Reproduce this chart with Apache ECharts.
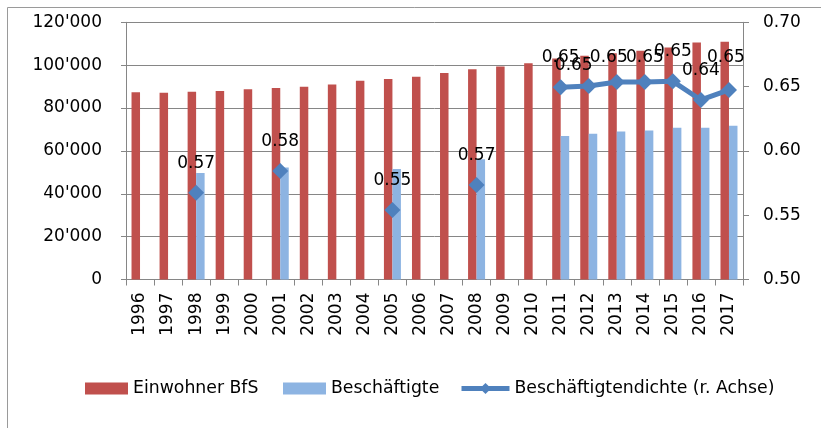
<!DOCTYPE html>
<html>
<head>
<meta charset="utf-8">
<script src="https://cdn.jsdelivr.net/npm/echarts@6/dist/echarts.min.js"></script>
<style>
html,body{margin:0;padding:0;background:#fff;}
#chart{width:821px;height:428px;}
</style>
</head>
<body>
<div id="chart"></div>
<script>
const years = ['1996','1997','1998','1999','2000','2001','2002','2003','2004','2005','2006','2007','2008','2009','2010','2011','2012','2013','2014','2015','2016','2017'];
const einwohner = [87400, 87100, 87550, 88000, 88800, 89400, 89900, 90950, 92700, 93500, 94550, 96400, 98100, 99400, 100950, 103100, 104350, 105600, 106700, 108250, 110600, 110900];
const beschaeftigte = [null, null, 49700, null, null, 52200, null, null, null, 51600, null, null, 56100, null, null, 67000, 67950, 69000, 69500, 70750, 70750, 71700];
const dichte = [null, null, 0.5675, null, null, 0.5844, null, null, null, 0.554, null, null, 0.5735, null, null, 0.6494, 0.6505, 0.6536, 0.6536, 0.6541, 0.6396, 0.6474];
const leftTicks = [0, 20000, 40000, 60000, 80000, 100000, 120000];
const rightTicks = [0.50, 0.55, 0.60, 0.65, 0.70];
const seriesNames = ['Einwohner BfS', 'Beschäftigte', 'Beschäftigtendichte (r. Achse)'];

// label placement tweaks (style only)
const labelOffsets = {'2012': [-15, 9], '2013': [-8, 5], '2014': [0, 5], '2017': [-3, -3]};

const FONT = 'DejaVu Sans';
const GRAY = '#868686';

const lineData = dichte.map((v, i) => {
  if (v === null) return '-';
  const off = labelOffsets[years[i]];
  return off ? {value: v, label: {offset: off}} : v;
});

const legendText = {fontFamily: FONT, fontSize: 17.3, color: '#000'};

const chart = echarts.init(document.getElementById('chart'), null, {renderer: 'canvas'});
chart.setOption({
  animation: false,
  backgroundColor: '#fff',
  graphic: [{
    type: 'rect', shape: {x: 7.5, y: 7.5, width: 900, height: 600},
    style: {fill: 'none', stroke: '#9a9a9a', lineWidth: 1}, silent: true
  }],
  grid: {left: 126, right: 78, top: 22.3, bottom: 148.5, containLabel: false},
  legend: [
    {data: [{name: seriesNames[0], icon: 'rect'}], left: 80, top: 375, itemWidth: 43, itemHeight: 12,
     textStyle: legendText},
    {data: [{name: seriesNames[1], icon: 'rect'}], left: 278, top: 375, itemWidth: 43, itemHeight: 12,
     textStyle: legendText},
    {data: [seriesNames[2]], left: 454, top: 375, itemWidth: 48, itemHeight: 14,
     lineStyle: {width: 5, color: '#4F81BD'},
     itemStyle: {color: '#4F81BD'},
     textStyle: legendText}
  ],
  xAxis: {
    type: 'category', data: years, boundaryGap: true,
    axisLine: {lineStyle: {color: GRAY, width: 1}},
    axisTick: {show: true, alignWithLabel: false, length: 6, lineStyle: {color: GRAY}},
    axisLabel: {rotate: 90, margin: 13, color: '#000', fontFamily: FONT, fontSize: 17, interval: 0},
    splitLine: {show: false}
  },
  yAxis: [{
    type: 'value', min: leftTicks[0], max: leftTicks[leftTicks.length - 1], interval: 20000,
    axisLine: {show: true, lineStyle: {color: GRAY, width: 1}},
    axisTick: {show: true, length: 5, lineStyle: {color: GRAY}},
    axisLabel: {margin: 24, color: '#000', fontFamily: FONT, fontSize: 17,
      formatter: v => String(Math.round(v)).replace(/\B(?=(\d{3})+(?!\d))/g, "'")},
    splitLine: {show: true, lineStyle: {color: GRAY, width: 1}}
  }, {
    type: 'value', min: rightTicks[0], max: rightTicks[rightTicks.length - 1], interval: 0.05,
    position: 'right',
    axisLine: {show: true, lineStyle: {color: GRAY, width: 1}},
    axisTick: {show: true, length: 6, lineStyle: {color: GRAY}},
    axisLabel: {margin: 20, color: '#000', fontFamily: FONT, fontSize: 17,
      formatter: v => v.toFixed(2)},
    splitLine: {show: false}
  }],
  series: [{
    name: seriesNames[0], type: 'bar', data: einwohner, yAxisIndex: 0,
    barWidth: 8.5, barGap: '0%',
    itemStyle: {color: '#C0504D'}
  }, {
    name: seriesNames[1], type: 'bar', data: beschaeftigte, yAxisIndex: 0,
    barWidth: 8.5, barGap: '0%',
    itemStyle: {color: '#8DB4E2'}
  }, {
    name: seriesNames[2], type: 'line', data: lineData, yAxisIndex: 1,
    connectNulls: false, symbol: 'diamond', symbolSize: 16, showAllSymbol: true,
    lineStyle: {color: '#4F81BD', width: 5},
    itemStyle: {color: '#4F81BD'},
    label: {show: true, position: 'top', distance: 13, color: '#000',
      fontFamily: FONT, fontSize: 17, formatter: p => Number(p.value).toFixed(2)},
    z: 5
  }]
});
</script>
</body>
</html>
